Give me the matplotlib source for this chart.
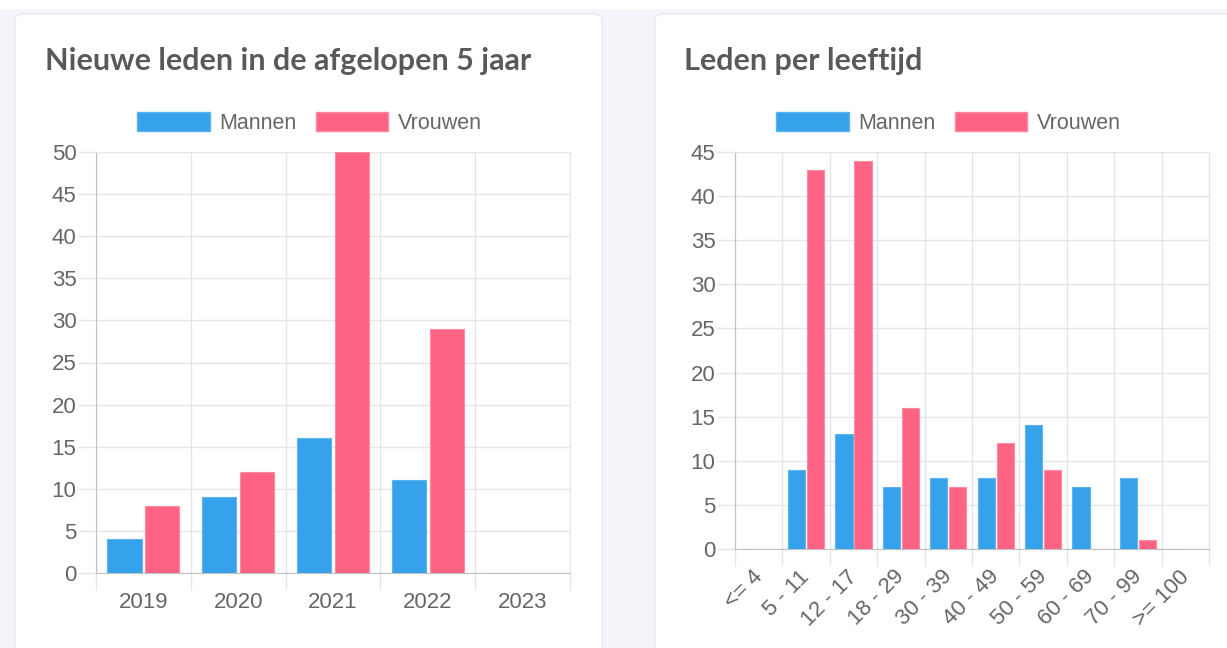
import matplotlib.pyplot as plt
import matplotlib.transforms as mtransforms
import numpy as np
from matplotlib.patches import FancyBboxPatch, Patch

# data
years = ['2019', '2020', '2021', '2022', '2023']
new_men = [4, 9, 16, 11, 0]
new_women = [8, 12, 50, 29, 0]

age_groups = ['<= 4', '5 - 11', '12 - 17', '18 - 29', '30 - 39', '40 - 49',
              '50 - 59', '60 - 69', '70 - 99', '>= 100']
age_men = [0, 9, 13, 7, 8, 8, 14, 7, 8, 0]
age_women = [0, 43, 44, 16, 7, 12, 9, 0, 1, 0]

BLUE = '#36a2eb'
PINK = '#ff6384'
GRID = '#e6e6e6'
AXIS = '#c0c0c0'
TXT = '#666666'
TITLE = '#595959'
FS = 16

W, H = 1227, 648
fig = plt.figure(figsize=(W / 100, H / 100), dpi=100)
fig.patch.set_facecolor('#f4f5fa')

def px(x, y, w, h):
    # pixel box (top-left origin) -> figure fraction
    return [x / W, 1 - (y + h) / H, w / W, h / H]

# white strip on top
fig.add_artist(plt.Rectangle((0, 1 - 9 / H), 1, 9 / H, transform=fig.transFigure,
                             facecolor='white', edgecolor='none', zorder=-5))

# cards
for cx, cw in [(15, 587), (655, 600)]:
    b = px(cx, 14, cw, 700)
    fig.add_artist(FancyBboxPatch((b[0], b[1]), b[2], b[3],
                                  boxstyle='round,pad=0,rounding_size=0.008',
                                  transform=fig.transFigure, facecolor='white',
                                  edgecolor='#e9eaf0', linewidth=1.0, zorder=-5))


def bar_chart(box, cats, men, women, ymax, title, title_x, legend_x, rotate):
    ax = fig.add_axes(px(*box))
    ax.set_facecolor('none')
    x = np.arange(len(cats))
    bw = 0.36
    ax.bar(x - 0.2, men, bw, color=BLUE, edgecolor='#5cb4ef', linewidth=0.8, zorder=3)
    ax.bar(x + 0.2, women, bw, color=PINK, edgecolor='#ff8aa2', linewidth=0.8, zorder=3)
    ax.set_xlim(-0.5, len(cats) - 0.5)
    ax.set_ylim(0, ymax)
    ax.set_yticks(np.arange(0, ymax + 1, 5))
    ax.set_xticks(x)
    ax.set_xticks(np.arange(len(cats) + 1) - 0.5, minor=True)
    ax.grid(True, which='minor', axis='x', color=GRID, linewidth=1)
    ax.grid(True, which='major', axis='y', color=GRID, linewidth=1)
    ax.set_axisbelow(True)
    ax.tick_params(axis='x', which='major', length=0, labelsize=FS, labelcolor=TXT,
                   pad=14 if not rotate else 11)
    ax.tick_params(axis='x', which='minor', length=12, color=GRID, width=1)
    ax.tick_params(axis='y', length=13, color=GRID, width=1, labelsize=FS,
                   labelcolor=TXT, pad=1)
    ax.yaxis.get_major_ticks()[0].tick1line.set_color(AXIS)
    ax.xaxis.get_minor_ticks()[0].tick1line.set_color(AXIS)
    if rotate:
        ax.set_xticklabels(cats, rotation=45, ha='right', rotation_mode='anchor')
        shift = mtransforms.ScaledTranslation(-7 / 100, -2 / 100, fig.dpi_scale_trans)
        for lab in ax.get_xticklabels():
            lab.set_transform(lab.get_transform() + shift)
    else:
        ax.set_xticklabels(cats)
    for s in ['top', 'right']:
        ax.spines[s].set_color(GRID)
    for s in ['left', 'bottom']:
        ax.spines[s].set_color(AXIS)
    for lab in ax.get_xticklabels() + ax.get_yticklabels():
        lab.set_family('Liberation Sans')
    fig.text(title_x / W, 1 - 61 / H, title, fontsize=22, fontweight='bold',
             family='Lato', color=TITLE, va='center', ha='left')
    handles = [Patch(facecolor=BLUE, edgecolor='#5cb4ef', label='Mannen'),
               Patch(facecolor=PINK, edgecolor='#ff8aa2', label='Vrouwen')]
    fig.legend(handles=handles, loc='center', bbox_to_anchor=(legend_x / W, 1 - 123 / H),
               ncol=2, frameon=False, prop={'family': 'Liberation Sans', 'size': 15.5},
               labelcolor=TXT, handlelength=3.35, handleheight=0.93, handletextpad=0.45,
               columnspacing=0.9, borderpad=0)
    return ax


bar_chart((96, 152, 474, 421), years, new_men, new_women, 50,
          'Nieuwe leden in de afgelopen 5 jaar', 45, 309.5, False)
bar_chart((735, 152, 474, 397), age_groups, age_men, age_women, 45,
          'Leden per leeftijd', 684, 948.5, True)

fig.savefig('out.png', dpi=100, facecolor=fig.get_facecolor())
